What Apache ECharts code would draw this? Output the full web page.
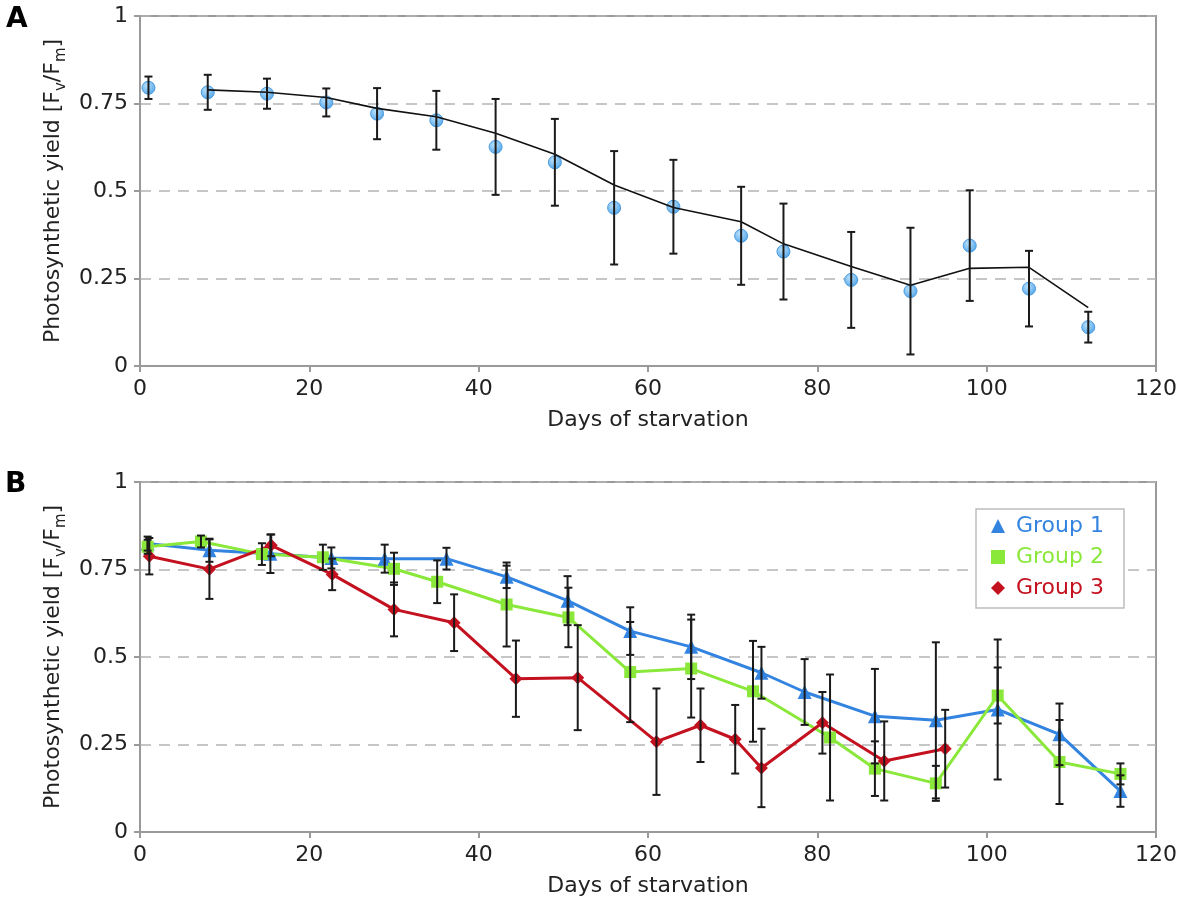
<!DOCTYPE html>
<html>
<head>
<meta charset="utf-8">
<script src="https://cdn.jsdelivr.net/npm/echarts@6/dist/echarts.min.js"></script>
<style>
html,body{margin:0;padding:0;background:#fff;}
#chart{width:1200px;height:907px;}
</style>
</head>
<body>
<div id="chart"></div>
<script>
// ---------- Panel A data ----------
const daysA = [1, 8, 15, 22, 28, 35, 42, 49, 56, 63, 71, 76, 84, 91, 98, 105, 112];
const meanA = [0.795, 0.782, 0.778, 0.753, 0.721, 0.702, 0.626, 0.582, 0.452, 0.455, 0.372, 0.327, 0.246, 0.214, 0.344, 0.221, 0.111];
const sdA   = [0.032, 0.05, 0.043, 0.04, 0.073, 0.084, 0.137, 0.124, 0.162, 0.134, 0.14, 0.137, 0.137, 0.181, 0.158, 0.108, 0.044];
const trendA = [null, 0.789, 0.782, 0.767, 0.736, 0.712, 0.665, 0.605, 0.517, 0.453, 0.412, 0.349, 0.284, 0.231, 0.279, 0.282, 0.167];

// ---------- Panel B data ----------
const groupNames = ['Group 1', 'Group 2', 'Group 3'];
const days1 = [0.9, 8.2, 15.4, 22.6, 28.9, 36.2, 43.3, 50.5, 57.9, 65.1, 73.4, 78.5, 86.8, 94.0, 101.3, 108.6, 115.8];
const g1    = [0.824, 0.805, 0.795, 0.783, 0.781, 0.781, 0.729, 0.661, 0.574, 0.529, 0.455, 0.4, 0.331, 0.319, 0.35, 0.279, 0.117];
const sd1   = [0.02, 0.033, 0.055, 0.03, 0.04, 0.031, 0.032, 0.07, 0.068, 0.092, 0.074, 0.094, 0.135, 0.223, 0.2, 0.088, 0.045];
const days2 = [0.9, 7.2, 14.4, 21.6, 30.0, 35.1, 43.3, 50.6, 57.9, 65.1, 72.4, 81.5, 86.8, 94.0, 101.3, 108.6, 115.8];
const g2    = [0.815, 0.83, 0.794, 0.785, 0.752, 0.715, 0.65, 0.613, 0.457, 0.467, 0.402, 0.27, 0.181, 0.139, 0.39, 0.2, 0.166];
const sd2   = [0.02, 0.017, 0.031, 0.036, 0.046, 0.061, 0.12, 0.085, 0.143, 0.14, 0.144, 0.18, 0.078, 0.05, 0.08, 0.12, 0.03];
const days3 = [1.1, 8.2, 15.5, 22.7, 30.0, 37.1, 44.4, 51.7, 61.0, 66.2, 70.3, 73.4, 80.6, 87.9, 95.1];
const g3    = [0.788, 0.751, 0.819, 0.736, 0.636, 0.598, 0.438, 0.441, 0.258, 0.305, 0.265, 0.183, 0.312, 0.203, 0.238];
const sd3   = [0.052, 0.085, 0.031, 0.045, 0.077, 0.081, 0.109, 0.15, 0.152, 0.105, 0.098, 0.112, 0.088, 0.113, 0.111];

const xTicks = [0, 20, 40, 60, 80, 100, 120];
const yTicks = [0, 0.25, 0.5, 0.75, 1];

const FONT = 'DejaVu Sans';
const AXIS_GRAY = '#9a9a9a';
const TXT = '#222';
const colors = ['#3384e0', '#8ae83a', '#c4111f'];

function pairs(xs, ys) { return xs.map((x, i) => [x, ys[i]]); }
function errData(xs, ys, sds) { return xs.map((x, i) => [x, ys[i] - sds[i], ys[i] + sds[i]]); }

function errRender(params, api) {
  const x = api.value(0), lo = api.value(1), hi = api.value(2);
  const p1 = api.coord([x, hi]), p2 = api.coord([x, lo]);
  const w = 4;
  const st = { stroke: '#1a1a1a', lineWidth: 2 };
  return { type: 'group', children: [
    { type: 'line', shape: { x1: p1[0], y1: p1[1], x2: p2[0], y2: p2[1] }, style: st },
    { type: 'line', shape: { x1: p1[0] - w, y1: p1[1], x2: p1[0] + w, y2: p1[1] }, style: st },
    { type: 'line', shape: { x1: p2[0] - w, y1: p2[1], x2: p2[0] + w, y2: p2[1] }, style: st }
  ]};
}

function xAxisDef(gi) {
  return {
    type: 'value', gridIndex: gi, min: xTicks[0], max: xTicks[xTicks.length - 1], interval: 20,
    name: 'Days of starvation', nameLocation: 'middle', nameGap: 43,
    nameTextStyle: { fontFamily: FONT, fontSize: 22, color: TXT },
    axisLine: { show: true, onZero: false, lineStyle: { color: AXIS_GRAY, width: 2 } },
    axisTick: { show: true, length: 6, lineStyle: { color: AXIS_GRAY, width: 2 } },
    axisLabel: { fontFamily: FONT, fontSize: 22, color: TXT, margin: 12 },
    splitLine: { show: false }
  };
}
function yAxisDef(gi) {
  return {
    type: 'value', gridIndex: gi, min: yTicks[0], max: yTicks[yTicks.length - 1], interval: 0.25,
    name: '{m|Photosynthetic yield [F}{s|v}{m|/F}{s|m}{m|]}', nameLocation: 'middle', nameGap: 57, nameRotate: 90,
    nameTextStyle: {
      fontFamily: FONT, fontSize: 22, color: TXT,
      rich: {
        m: { fontFamily: FONT, fontSize: 22, color: TXT, lineHeight: 30, verticalAlign: 'middle' },
        s: { fontFamily: FONT, fontSize: 15, color: TXT, lineHeight: 30, verticalAlign: 'bottom' }
      }
    },
    axisLine: { show: true, lineStyle: { color: AXIS_GRAY, width: 2 } },
    axisTick: { show: true, length: 6, lineStyle: { color: AXIS_GRAY, width: 2 } },
    axisLabel: { fontFamily: FONT, fontSize: 22, color: TXT, margin: 12 },
    splitLine: { show: true, lineStyle: { color: '#b4b4b4', width: 1.5, type: [11, 8] } }
  };
}

const circleFill = {
  type: 'radial', x: 0.4, y: 0.35, r: 0.65,
  colorStops: [{ offset: 0, color: '#b9e0fb' }, { offset: 1, color: '#56a8ea' }]
};

const option = {
  animation: false,
  backgroundColor: '#fff',
  graphic: [
    { type: 'text', left: 6, top: 6, style: { text: 'A', font: 'bold 28px "DejaVu Sans"', fill: '#000' } },
    { type: 'text', left: 5, top: 471, style: { text: 'B', font: 'bold 28px "DejaVu Sans"', fill: '#000' } }
  ],
  grid: [
    { left: 140, top: 16, width: 1016, height: 350, show: true, borderColor: AXIS_GRAY, borderWidth: 2, backgroundColor: 'transparent' },
    { left: 140, top: 482, width: 1016, height: 350, show: true, borderColor: AXIS_GRAY, borderWidth: 2, backgroundColor: 'transparent' }
  ],
  xAxis: [xAxisDef(0), xAxisDef(1)],
  yAxis: [yAxisDef(0), yAxisDef(1)],
  legend: {
    data: groupNames.map((n, i) => ({ name: n, icon: ['triangle', 'rect', 'diamond'][i], textStyle: { color: colors[i] } })),
    orient: 'vertical', left: 976, top: 509,
    padding: [6, 20, 9, 15], itemGap: 9, itemWidth: 14, itemHeight: 14,
    backgroundColor: '#fff', borderColor: '#bdbdbd', borderWidth: 1.5,
    textStyle: { fontFamily: FONT, fontSize: 22, lineHeight: 22, padding: [0, 0, 0, 6] },
    selectedMode: false
  },
  series: [
    // Panel A
    { type: 'line', name: 'trend', xAxisIndex: 0, yAxisIndex: 0, data: pairs(daysA, trendA), showSymbol: false, symbol: 'none',
      lineStyle: { color: '#111', width: 1.6 }, z: 3 },
    { type: 'scatter', name: 'meanA', xAxisIndex: 0, yAxisIndex: 0, data: pairs(daysA, meanA), symbol: 'circle', symbolSize: 13,
      itemStyle: { color: circleFill, borderColor: '#4a9be0', borderWidth: 1, opacity: 1 }, z: 2 },
    { type: 'custom', name: 'errA', xAxisIndex: 0, yAxisIndex: 0, data: errData(daysA, meanA, sdA), renderItem: errRender,
      encode: { x: 0, y: [1, 2] }, z: 4 },
    // Panel B lines
    { type: 'line', name: groupNames[0], xAxisIndex: 1, yAxisIndex: 1, data: pairs(days1, g1), symbol: 'triangle', symbolSize: 14,
      showAllSymbol: true, lineStyle: { color: colors[0], width: 3 }, itemStyle: { color: colors[0] }, z: 3 },
    { type: 'line', name: groupNames[1], xAxisIndex: 1, yAxisIndex: 1, data: pairs(days2, g2), symbol: 'rect', symbolSize: 12,
      showAllSymbol: true, lineStyle: { color: colors[1], width: 3 }, itemStyle: { color: colors[1] }, z: 3 },
    { type: 'line', name: groupNames[2], xAxisIndex: 1, yAxisIndex: 1, data: pairs(days3, g3), symbol: 'diamond', symbolSize: 13,
      showAllSymbol: true, lineStyle: { color: colors[2], width: 3 }, itemStyle: { color: colors[2] }, z: 3 },
    // Panel B error bars
    { type: 'custom', name: 'err1', xAxisIndex: 1, yAxisIndex: 1, data: errData(days1, g1, sd1), renderItem: errRender, encode: { x: 0, y: [1, 2] }, z: 4 },
    { type: 'custom', name: 'err2', xAxisIndex: 1, yAxisIndex: 1, data: errData(days2, g2, sd2), renderItem: errRender, encode: { x: 0, y: [1, 2] }, z: 4 },
    { type: 'custom', name: 'err3', xAxisIndex: 1, yAxisIndex: 1, data: errData(days3, g3, sd3), renderItem: errRender, encode: { x: 0, y: [1, 2] }, z: 4 }
  ]
};

const chart = echarts.init(document.getElementById('chart'), null, { renderer: 'canvas' });
chart.setOption(option);
</script>
</body>
</html>
